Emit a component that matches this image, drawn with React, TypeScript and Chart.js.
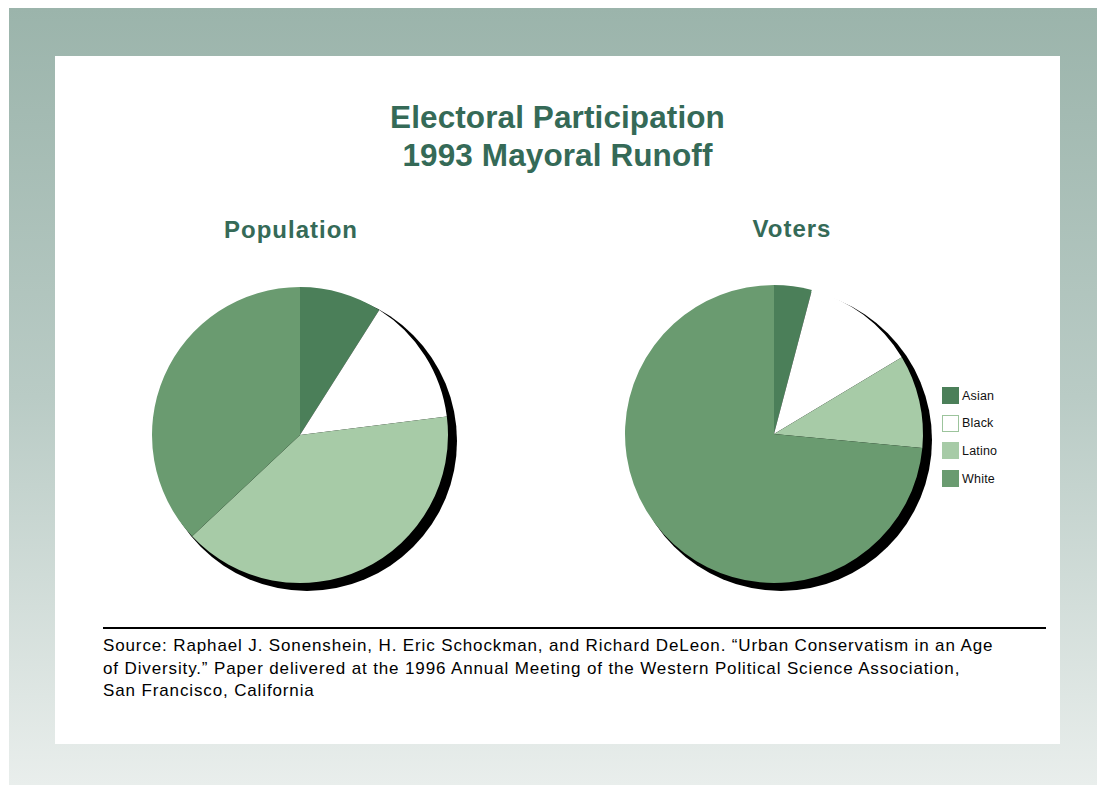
import React, { useEffect, useRef } from 'react';
import { Chart, registerables } from 'chart.js';

Chart.register(...registerables);

const categories = ['Asian', 'Black', 'Latino', 'White'];
const populationValues = [9, 14, 40, 37];
const voterValues = [4.1, 12.3, 10.1, 73.5];
const sliceColors = ['#4b7f59', '#ffffff', '#a7cba7', '#6a9b70'];
const legendBorders = ['#4b7f59', '#9cc49c', '#a7cba7', '#6a9b70'];

const mainTitle = ['Electoral Participation', '1993 Mayoral Runoff'];
const chartTitles = ['Population', 'Voters'];
const sourceLines = [
  'Source: Raphael J. Sonenshein, H. Eric Schockman, and Richard DeLeon. \u201CUrban Conservatism in an Age',
  'of Diversity.\u201D Paper delivered at the 1996 Annual Meeting of the Western Political Science Association,',
  'San Francisco, California',
];

const GREEN = '#356a57';
const FONT = '"Liberation Sans", Arial, Helvetica, sans-serif';

const shadowPlugin = {
  id: 'pieShadow',
  beforeDatasetsDraw(chart: any) {
    const meta = chart.getDatasetMeta(0);
    const arc = meta.data[0];
    if (!arc) return;
    const { x, y, outerRadius } = arc.getProps(['x', 'y', 'outerRadius'], true);
    const ctx = chart.ctx;
    ctx.save();
    ctx.fillStyle = '#000000';
    ctx.beginPath();
    ctx.arc(x + 7, y + 6, outerRadius + 2, 0, Math.PI * 2);
    ctx.fill();
    ctx.restore();
  },
};

function PieChart({ values, size, pad }: { values: number[]; size: number; pad: number }) {
  const ref = useRef<HTMLCanvasElement | null>(null);
  useEffect(() => {
    if (!ref.current) return;
    const chart = new Chart(ref.current, {
      type: 'pie',
      data: {
        labels: categories,
        datasets: [
          {
            data: values,
            backgroundColor: sliceColors,
            borderWidth: 0,
            hoverOffset: 0,
            offset: 0,
          },
        ],
      },
      options: {
        responsive: false,
        animation: false,
        layout: { padding: pad },
        plugins: {
          legend: { display: false },
          tooltip: { enabled: false },
          title: { display: false },
        },
      },
      plugins: [shadowPlugin],
    });
    return () => chart.destroy();
  }, [values, size, pad]);
  return <canvas ref={ref} width={size} height={size} style={{ width: size, height: size, display: 'block' }} />;
}

export default function App() {
  const abs = (s: React.CSSProperties): React.CSSProperties => ({ position: 'absolute', ...s });
  return (
    <div style={abs({ left: 0, top: 0, width: 1097, height: 788, background: '#ffffff', fontFamily: FONT, overflow: 'hidden' })}>
      <div style={abs({ left: 9, top: 8, width: 1088, height: 777, background: 'linear-gradient(to bottom, #9bb4ab 0%, #b9cbc5 50%, #e9eeec 100%)' })} />
      <div style={abs({ left: 55, top: 56, width: 1005, height: 688, background: '#ffffff' })} />

      <div style={abs({ left: 55, top: 98, width: 1005, textAlign: 'center', color: GREEN, fontWeight: 'bold', fontSize: 31.5, lineHeight: '38px', letterSpacing: 0.1 })}>
        {mainTitle.map((t, i) => (
          <div key={i}>{t}</div>
        ))}
      </div>

      <div style={abs({ left: 141, top: 218, width: 300, textAlign: 'center', color: GREEN, fontWeight: 'bold', fontSize: 24, lineHeight: '24px', letterSpacing: 1 })}>
        {chartTitles[0]}
      </div>
      <div style={abs({ left: 642, top: 217, width: 300, textAlign: 'center', color: GREEN, fontWeight: 'bold', fontSize: 24, lineHeight: '24px', letterSpacing: 1 })}>
        {chartTitles[1]}
      </div>

      <div style={abs({ left: 140, top: 275 })}>
        <PieChart values={populationValues} size={320} pad={12} />
      </div>
      <div style={abs({ left: 610, top: 270 })}>
        <PieChart values={voterValues} size={328} pad={15} />
      </div>

      <div style={abs({ left: 942, top: 387 })}>
        {categories.map((c, i) => (
          <div key={c} style={{ display: 'flex', alignItems: 'center', height: 17, marginBottom: 10.7 }}>
            <div style={{ width: 15, height: 15, background: sliceColors[i], border: `1px solid ${legendBorders[i]}` }} />
            <span style={{ marginLeft: 3, fontSize: 12.5, color: '#111', letterSpacing: 0.2 }}>{c}</span>
          </div>
        ))}
      </div>

      <div style={abs({ left: 103, top: 627, width: 943, height: 2, background: '#000' })} />
      <div style={abs({ left: 103, top: 635, width: 960, fontSize: 17, lineHeight: '22.5px', color: '#000', whiteSpace: 'nowrap', letterSpacing: 0.87 })}>
        {sourceLines.map((l, i) => (
          <div key={i}>{l}</div>
        ))}
      </div>
    </div>
  );
}
